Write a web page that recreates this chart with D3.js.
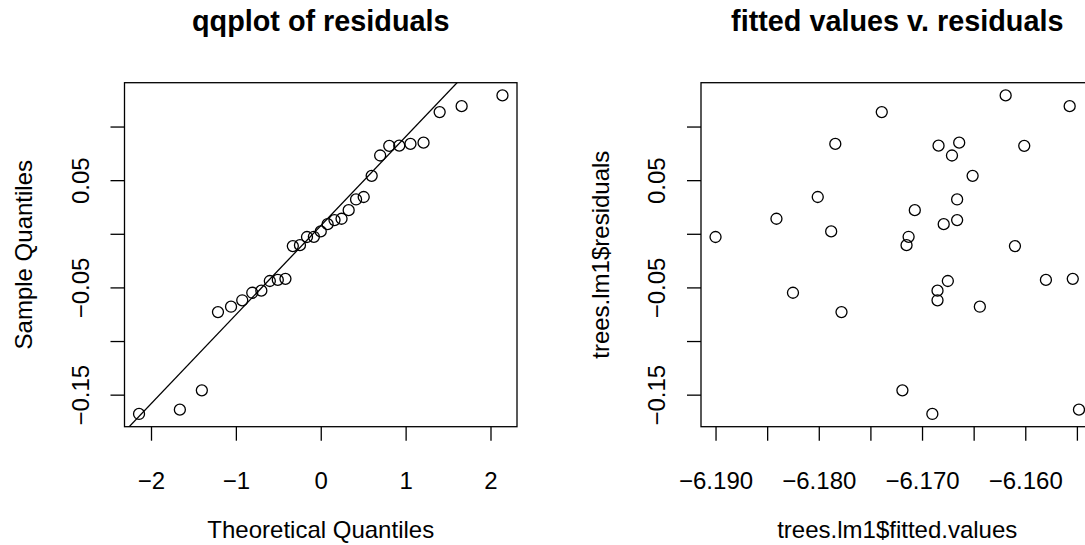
<!DOCTYPE html>
<html>
<head>
<meta charset="utf-8">
<script src="https://cdn.jsdelivr.net/npm/d3@7"></script>
<style>
  body { margin: 0; background: #fff; }
  svg text { font-family: "Liberation Sans", Arial, Helvetica, sans-serif; fill: #000; }
</style>
</head>
<body>
<div id="chart-area"></div>
<script>
// fitted values and residuals of trees.lm1
var fitted = [-6.1900, -6.1841, -6.1825, -6.1801, -6.1788, -6.1784, -6.1778, -6.1739,
  -6.1719, -6.1715, -6.1713, -6.1707, -6.1690, -6.1685, -6.1685, -6.1684,
  -6.1679, -6.1675, -6.1671, -6.1666, -6.1666, -6.1664, -6.1651, -6.1644,
  -6.1619, -6.1610, -6.1601, -6.1580, -6.1557, -6.1554, -6.1548];
var residuals = [-0.0030, 0.0140, -0.0550, 0.0343, 0.0022, 0.0838, -0.0730, 0.1135,
  -0.1460, -0.0106, -0.0028, 0.0220, -0.1680, -0.0530, -0.0620, 0.0822,
  0.0090, -0.0440, 0.0730, 0.0128, 0.0320, 0.0850, 0.0540, -0.0680,
  0.1290, -0.0115, 0.0820, -0.0430, 0.1190, -0.0420, -0.1640];

// normal quantiles for n = 31 (ppoints)
var theoretical = [-2.141, -1.660, -1.401, -1.211, -1.057, -0.925, -0.807, -0.700,
  -0.600, -0.506, -0.416, -0.329, -0.245, -0.162, -0.081, 0,
  0.081, 0.162, 0.245, 0.329, 0.416, 0.506, 0.600, 0.700,
  0.807, 0.925, 1.057, 1.211, 1.401, 1.660, 2.141];

var qqXTicks = [-2, -1, 0, 1, 2];
var qqXLabels = ["\u22122", "\u22121", "0", "1", "2"];
var yTicks = [-0.15, -0.10, -0.05, 0, 0.05, 0.10];
var yLabels = ["\u22120.15", "", "\u22120.05", "", "0.05", ""];
var fitXTicks = [-6.190, -6.185, -6.180, -6.175, -6.170, -6.165, -6.160, -6.155];
var fitXLabels = ["\u22126.190", "", "\u22126.180", "", "\u22126.170", "", "\u22126.160", ""];

var titles = ["qqplot of residuals", "fitted values v. residuals"];
var xTitles = ["Theoretical Quantiles", "trees.lm1$fitted.values"];
var yTitles = ["Sample Quantiles", "trees.lm1$residuals"];

var W = 1085, H = 545;
var boxTop = 82.7, boxBottom = 426.7;
var panelLeft = [124.5, 701];
var boxWidth = 392.5;

// R style 4% padding
function padded(vals) {
  var e = d3.extent(vals), p = (e[1] - e[0]) * 0.04;
  return [e[0] - p, e[1] + p];
}

var svg = d3.select("#chart-area")
  .append("svg")
    .attr("width", W)
    .attr("height", H);

var y = d3.scaleLinear()
  .domain(padded(residuals))
  .range([boxBottom, boxTop]);

var sorted = residuals.slice().sort(d3.ascending);

var xq = d3.scaleLinear()
  .domain(padded(theoretical))
  .range([panelLeft[0], panelLeft[0] + boxWidth]);

var xf = d3.scaleLinear()
  .domain(padded(fitted))
  .range([panelLeft[1], panelLeft[1] + boxWidth]);

function drawFrame(i, x, xt, xl) {
  var left = panelLeft[i];
  var cx = left + boxWidth / 2;

  svg.append("text")
    .attr("x", cx)
    .attr("y", 31)
    .attr("text-anchor", "middle")
    .attr("font-size", "28.8px")
    .attr("font-weight", "bold")
    .text(titles[i]);

  // bottom axis
  var bottom = svg.append("g")
    .attr("transform", "translate(0," + boxBottom + ")")
    .call(d3.axisBottom(x).tickValues(xt).tickSize(14)
      .tickFormat(function(d, j) { return xl[j]; }));
  bottom.select(".domain").remove();
  bottom.selectAll("line").attr("stroke", "#000").attr("stroke-width", 1.3);
  bottom.selectAll("text")
    .attr("y", 62.3).attr("dy", 0)
    .attr("font-size", "24px")
    .attr("font-family", null);

  // left axis
  var leftAx = svg.append("g")
    .attr("transform", "translate(" + left + ",0)")
    .call(d3.axisLeft(y).tickValues(yTicks).tickSize(14)
      .tickFormat(function(d, j) { return yLabels[j]; }));
  leftAx.select(".domain").remove();
  leftAx.selectAll("line").attr("stroke", "#000").attr("stroke-width", 1.3);
  leftAx.selectAll("text")
    .attr("x", 0).attr("dy", 0)
    .attr("transform", "translate(-36,0) rotate(-90)")
    .attr("text-anchor", "middle")
    .attr("font-size", "24px")
    .attr("font-family", null);

  svg.append("text")
    .attr("x", cx)
    .attr("y", 537.7)
    .attr("text-anchor", "middle")
    .attr("font-size", "24px")
    .text(xTitles[i]);

  svg.append("text")
    .attr("transform", "translate(" + (left - 92.5) + "," + ((boxTop + boxBottom) / 2) + ") rotate(-90)")
    .attr("text-anchor", "middle")
    .attr("font-size", "24px")
    .text(yTitles[i]);

  svg.append("rect")
    .attr("x", left)
    .attr("y", boxTop)
    .attr("width", boxWidth)
    .attr("height", boxBottom - boxTop)
    .attr("fill", "none")
    .attr("stroke", "#000")
    .attr("stroke-width", 1.3);
}

drawFrame(0, xq, qqXTicks, qqXLabels);
drawFrame(1, xf, fitXTicks, fitXLabels);

// qq line through the quartiles
var q1 = d3.quantile(sorted, 0.25), q3 = d3.quantile(sorted, 0.75);
var z = 0.6745;
var slope = (q3 - q1) / (2 * z);
var inter = q1 + slope * z;

svg.append("clipPath")
  .attr("id", "clipq")
  .append("rect")
    .attr("x", panelLeft[0])
    .attr("y", boxTop)
    .attr("width", boxWidth)
    .attr("height", boxBottom - boxTop);

var xd = xq.domain();
svg.append("line")
  .attr("clip-path", "url(#clipq)")
  .attr("x1", xq(xd[0] - 1)).attr("y1", y(inter + slope * (xd[0] - 1)))
  .attr("x2", xq(xd[1] + 1)).attr("y2", y(inter + slope * (xd[1] + 1)))
  .attr("stroke", "#000")
  .attr("stroke-width", 1.3);

svg.append("g").selectAll("circle")
  .data(sorted)
  .enter()
  .append("circle")
    .attr("cx", function(d, i) { return xq(theoretical[i]); })
    .attr("cy", function(d) { return y(d); })
    .attr("r", 5.5)
    .attr("fill", "none")
    .attr("stroke", "#000")
    .attr("stroke-width", 1.3);

svg.append("g").selectAll("circle")
  .data(fitted)
  .enter()
  .append("circle")
    .attr("cx", function(d) { return xf(d); })
    .attr("cy", function(d, i) { return y(residuals[i]); })
    .attr("r", 5.5)
    .attr("fill", "none")
    .attr("stroke", "#000")
    .attr("stroke-width", 1.3);
</script>
</body>
</html>
